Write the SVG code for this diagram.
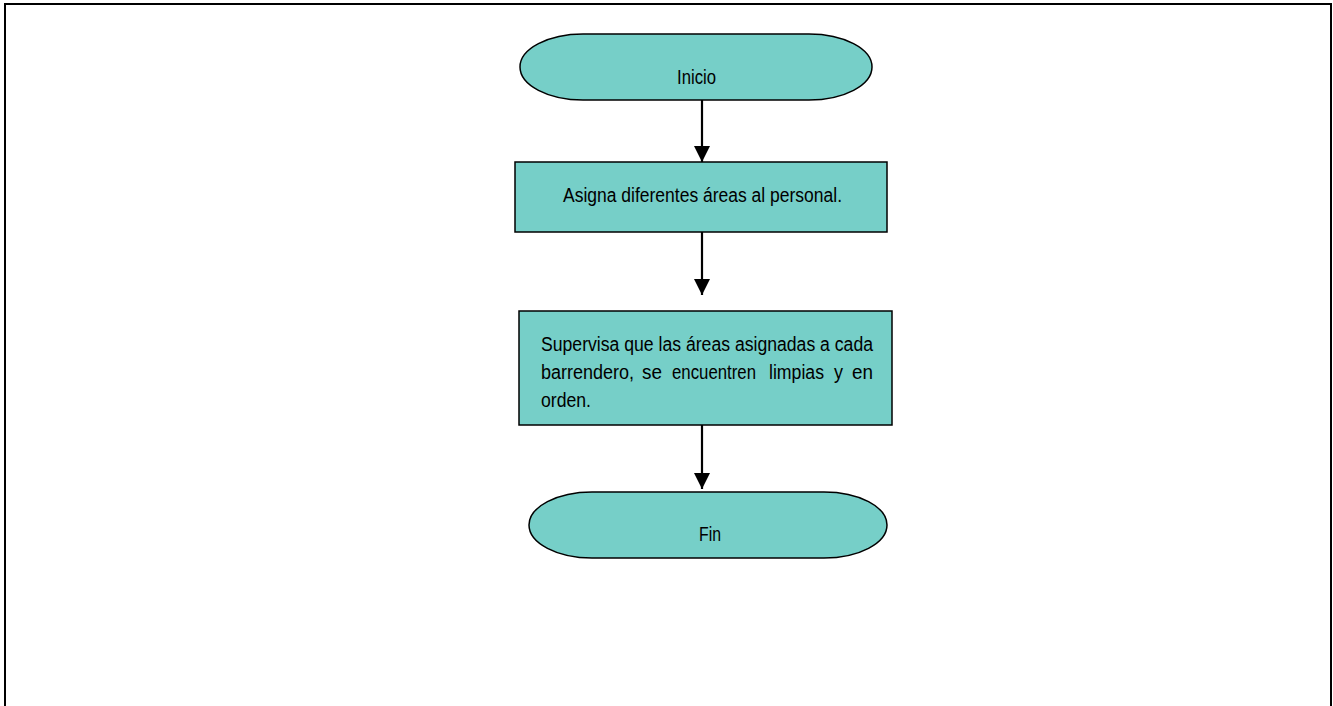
<svg xmlns="http://www.w3.org/2000/svg" width="1333" height="706" viewBox="0 0 1333 706">
<defs>
<style>
.shape{fill:#76CFC8;stroke:#000;stroke-width:1.5}
.lbl{font-family:"Liberation Sans","DejaVu Sans Condensed",sans-serif;font-size:20px;fill:#000}
.conn{stroke:#000;stroke-width:2.2;fill:none}
.frame{stroke:#000;stroke-width:2;fill:none}
</style>
<marker id="arrow" markerUnits="userSpaceOnUse" markerWidth="16" markerHeight="16" viewBox="0 0 16 16" refX="16" refY="8" orient="auto">
<path d="M0,0 L16,8 L0,16 Z" fill="#000"/>
</marker>
</defs>
<rect width="1333" height="706" fill="#fff"/>
<path class="frame" d="M5,706 V4 H1331 V706"/>
<g id="connectors">
<line class="conn" x1="702" y1="100" x2="702" y2="162" marker-end="url(#arrow)"/>
<line class="conn" x1="702" y1="232" x2="702" y2="295" marker-end="url(#arrow)"/>
<line class="conn" x1="702" y1="425" x2="702" y2="489" marker-end="url(#arrow)"/>
</g>
<g id="inicio">
<rect class="shape" x="520" y="34" width="352" height="66" rx="63" ry="33"/>
<text class="lbl" x="677" y="84" textLength="39" lengthAdjust="spacingAndGlyphs">Inicio</text>
</g>
<g id="asigna">
<rect class="shape" x="515" y="162" width="372" height="70"/>
<text class="lbl" x="563" y="202" textLength="279" lengthAdjust="spacingAndGlyphs">Asigna diferentes áreas al personal.</text>
</g>
<g id="supervisa">
<rect class="shape" x="519" y="311" width="373" height="114"/>
<text class="lbl" x="541" y="351" textLength="332" lengthAdjust="spacingAndGlyphs">Supervisa que las áreas asignadas a cada</text>
<text class="lbl" x="541" y="379" textLength="93" lengthAdjust="spacingAndGlyphs">barrendero,</text>
<text class="lbl" x="642" y="379" textLength="20" lengthAdjust="spacingAndGlyphs">se</text>
<text class="lbl" x="672" y="379" textLength="84" lengthAdjust="spacingAndGlyphs">encuentren</text>
<text class="lbl" x="769" y="379" textLength="55" lengthAdjust="spacingAndGlyphs">limpias</text>
<text class="lbl" x="834" y="379" textLength="9" lengthAdjust="spacingAndGlyphs">y</text>
<text class="lbl" x="852" y="379" textLength="21" lengthAdjust="spacingAndGlyphs">en</text>
<text class="lbl" x="541" y="407" textLength="50" lengthAdjust="spacingAndGlyphs">orden.</text>
</g>
<g id="fin">
<rect class="shape" x="529" y="492" width="358" height="66" rx="63" ry="33"/>
<text class="lbl" x="699" y="541" textLength="22" lengthAdjust="spacingAndGlyphs">Fin</text>
</g>
</svg>
